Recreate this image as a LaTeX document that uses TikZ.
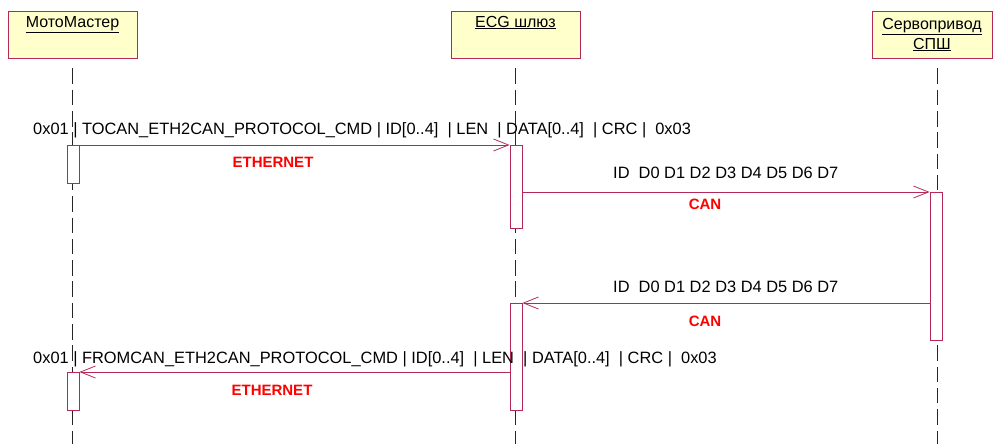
\documentclass[tikz,border=0pt]{standalone}
\usepackage{fontspec}
\setmainfont{Liberation Sans}
\usetikzlibrary{arrows.meta}

\definecolor{umlline}{RGB}{180,40,90}
\definecolor{umlfill}{RGB}{255,255,204}

\tikzset{
	actor/.style={rectangle, draw=umlline, fill=umlfill, line width=0.8pt, align=center, inner sep=0pt, font=\fontsize{16}{20}\selectfont},
	act/.style={rectangle, draw=umlline, fill=white, line width=0.8pt, minimum width=12pt, inner sep=0pt, anchor=north},
	life/.style={black!85, line width=0.9pt, dash pattern=on 15.5pt off 5.8pt},
	msg/.style={umlline, line width=0.8pt, -{Straight Barb[length=15pt, width=12pt, line width=0.8pt]}},
	lbl/.style={anchor=base west, inner sep=0pt, font=\fontsize{16.4}{19}\selectfont},
	bus/.style={anchor=base, inner sep=0pt, text=red, font=\bfseries\fontsize{15}{17}\selectfont}
}

\begin{document}
\begin{tikzpicture}[x=1pt, y=-1pt]
		\useasboundingbox (0, 0) rectangle (994, 444);

		% objects
		\node [actor, minimum width=129pt, minimum height=47pt] (mm) at (72.5, 34.5) {\underline{МотоМастер}\\ \strut};
		\node [actor, minimum width=129pt, minimum height=47pt] (ecg) at (515.5, 34.5) {\underline{ECG шлюз}\\ \strut};
		\node [actor, minimum width=120pt, minimum height=47pt] (srv) at (932, 34.5) {\underline{Сервопривод}\\ \underline{СПШ}};

		% lifelines
		\draw [life] ([yshift=-10pt]mm.south) -- (mm.south |- 0, 444);
		\draw [life] ([yshift=-10pt]ecg.south) -- (ecg.south |- 0, 444);
		\draw [life] ([xshift=5pt, yshift=-10pt]srv.south) -- ([xshift=5pt]srv.south |- 0, 444);

		% activations
		\node [act, minimum height=38pt] (mm1) at (73, 145) {};
		\node [act, minimum height=83pt] (ecg1) at (516, 145) {};
		\node [act, minimum height=148pt] (srv1) at (936, 192) {};
		\node [act, minimum height=107pt] (ecg2) at (516, 303) {};
		\node [act, minimum height=38pt] (mm2) at (73, 372) {};

		% messages
		\draw [msg] (mm1.north east) -- (ecg1.north west);
		\draw [msg] (srv1.north west -| ecg1.east) -- (srv1.north west);
		\draw [msg] (ecg2.north east -| srv1.west) -- (ecg2.north east);
		\draw [msg] (mm2.north east -| ecg2.west) -- (mm2.north east);

		% frame texts
		\node [lbl] (tocan) at (33, 135) {0x01 | TOCAN\_ETH2CAN\_PROTOCOL\_CMD | ID[0..4]~~|~LEN~~|~DATA[0..4]~~|~CRC~|~~0x03};
		\node [bus] (eth1) at (273, 167) {ETHERNET};
		\node [lbl] (frm1) at (613, 178) {ID~~D0 D1 D2 D3 D4 D5 D6 D7};
		\node [bus] (can1) at (705, 209) {CAN};
		\node [lbl] (frm2) at (613, 292) {ID~~D0 D1 D2 D3 D4 D5 D6 D7};
		\node [bus] (can2) at (705, 326) {CAN};
		\node [lbl] (fromcan) at (33, 363) {0x01 | FROMCAN\_ETH2CAN\_PROTOCOL\_CMD | ID[0..4]~~|~LEN~~|~DATA[0..4]~~|~CRC~|~~0x03};
		\node [bus] (eth2) at (272, 395) {ETHERNET};
	\end{tikzpicture}
\end{document}
